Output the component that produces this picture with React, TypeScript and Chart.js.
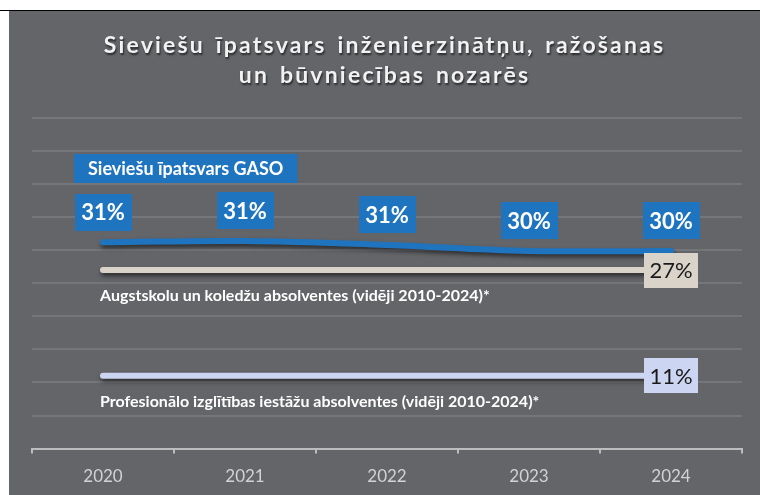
import React, { useEffect, useRef } from "react";
import { Chart, registerables } from "chart.js";

Chart.register(...registerables);

// ---------- data ----------
const TITLE_LINES = [
  "Sieviešu īpatsvars inženierzinātņu, ražošanas",
  "un būvniecības nozarēs",
];
const YEARS = ["2020", "2021", "2022", "2023", "2024"];
const GASO_LABEL = "Sieviešu īpatsvars GASO";
const GASO_VALUES = [31.2, 31.4, 30.8, 29.9, 29.9];
const UNI_LABEL = "Augstskolu un koledžu absolventes (vidēji 2010-2024)*";
const UNI_VALUES = [27, 27, 27, 27, 27];
const VOC_LABEL =
  "Profesionālo izglītības iestāžu absolventes (vidēji 2010-2024)*";
const VOC_VALUES = [11, 11, 11, 11, 11];
const Y_MIN = 0;
const Y_MAX = 50;
const Y_STEP = 5;

// ---------- styles ----------
const PANEL_BG = "#646569";
const BLUE = "#1f74c0";
const BEIGE = "#d9d3ca";
const LAVENDER = "#ccd5f1";
const FONT = "Lato, 'Open Sans', 'DejaVu Sans', sans-serif";

const lineShadow = {
  id: "lineShadow",
  beforeDatasetDraw(chart: any) {
    const ctx = chart.ctx;
    ctx.save();
    ctx.shadowColor = "rgba(0,0,0,0.55)";
    ctx.shadowBlur = 4;
    ctx.shadowOffsetX = 1;
    ctx.shadowOffsetY = 3;
  },
  afterDatasetDraw(chart: any) {
    chart.ctx.restore();
  },
};

const labelsPlugin = {
  id: "customLabels",
  afterDatasetsDraw(chart: any) {
    const ctx = chart.ctx;
    const area = chart.chartArea;
    ctx.save();
    ctx.textBaseline = "middle";

    // series 0: value boxes above each point
    const meta0 = chart.getDatasetMeta(0);
    const ds0 = chart.data.datasets[0];
    meta0.data.forEach((pt: any, i: number) => {
      const cx = pt.x;
      const cy = pt.y - 30;
      ctx.fillStyle = BLUE;
      ctx.fillRect(Math.round(cx - 28.5), Math.round(cy - 18.5), 57, 37);
      ctx.fillStyle = "#ffffff";
      ctx.font = `bold 22px ${FONT}`;
      ctx.textAlign = "center";
      ctx.fillText(Math.round(ds0.data[i]) + "%", cx, cy + 1);
    });

    // series 0 legend box
    const first0 = meta0.data[0];
    ctx.font = `bold 18px ${FONT}`;
    const lw = ctx.measureText(ds0.label).width;
    const lx = Math.round(first0.x - 29);
    const ly = Math.round(area.top + 36);
    ctx.fillStyle = BLUE;
    ctx.fillRect(lx, ly, lw + 28, 29);
    ctx.fillStyle = "#ffffff";
    ctx.textAlign = "left";
    ctx.fillText(ds0.label, lx + 14, ly + 15);

    // average series: end box + caption
    [1, 2].forEach((di) => {
      const meta = chart.getDatasetMeta(di);
      const ds = chart.data.datasets[di];
      const last = meta.data[meta.data.length - 1];
      const first = meta.data[0];
      ctx.fillStyle = ds.borderColor;
      ctx.fillRect(Math.round(last.x - 27), Math.round(last.y - 17.5), 54, 35);
      ctx.fillStyle = "#1a1a1a";
      ctx.font = `22px ${FONT}`;
      ctx.textAlign = "center";
      ctx.fillText(Math.round(ds.data[ds.data.length - 1]) + "%", last.x, last.y + 1);

      ctx.fillStyle = "#ffffff";
      ctx.font = `bold 16px ${FONT}`;
      ctx.textAlign = "left";
      ctx.fillText(ds.label, first.x - 3, first.y + 26);
    });
    ctx.restore();
  },
};

export default function App() {
  const canvasRef = useRef<HTMLCanvasElement | null>(null);

  useEffect(() => {
    if (!canvasRef.current) return;
    const chart = new Chart(canvasRef.current, {
      type: "line",
      data: {
        labels: YEARS,
        datasets: [
          {
            label: GASO_LABEL,
            data: GASO_VALUES,
            borderColor: BLUE,
            backgroundColor: BLUE,
            borderWidth: 6,
            tension: 0.4,
            pointRadius: 0,
            borderCapStyle: "round",
            borderJoinStyle: "round",
          },
          {
            label: UNI_LABEL,
            data: UNI_VALUES,
            borderColor: BEIGE,
            backgroundColor: BEIGE,
            borderWidth: 6,
            pointRadius: 0,
            borderCapStyle: "round",
          },
          {
            label: VOC_LABEL,
            data: VOC_VALUES,
            borderColor: LAVENDER,
            backgroundColor: LAVENDER,
            borderWidth: 6,
            pointRadius: 0,
            borderCapStyle: "round",
          },
        ],
      },
      options: {
        responsive: false,
        animation: false,
        devicePixelRatio: 1,
        layout: { padding: { left: 23, right: 18, top: 107, bottom: 0 } },
        plugins: {
          legend: { display: false },
          tooltip: { enabled: false },
          title: { display: false },
        },
        scales: {
          x: {
            type: "category",
            offset: true,
            grid: {
              display: true,
              offset: true,
              drawOnChartArea: false,
              drawTicks: true,
              tickLength: 5,
              color: "#bdbdbd",
              lineWidth: 2,
            },
            border: { display: true, color: "#bdbdbd", width: 2 },
            ticks: {
              color: "#d2d2d2",
              font: { family: FONT, size: 17 },
              padding: 13,
            },
          },
          y: {
            min: Y_MIN,
            max: Y_MAX,
            ticks: { display: false, stepSize: Y_STEP },
            grid: {
              drawTicks: false,
              lineWidth: 2,
              color: (c: any) =>
                c.tick && c.tick.value === Y_MIN ? "rgba(0,0,0,0)" : "#75767a",
            },
            border: { display: false },
          },
        },
      },
      plugins: [lineShadow, labelsPlugin],
    } as any);

    let alive = true;
    if ((document as any).fonts) {
      Promise.all([
        document.fonts.load(`bold 21px Lato`),
        document.fonts.load(`21px Lato`),
        document.fonts.load(`17px Lato`),
      ])
        .then(() => {
          if (alive) chart.update("none");
        })
        .catch(() => {});
    }
    return () => {
      alive = false;
      chart.destroy();
    };
  }, []);

  return (
    <div
      style={{
        position: "absolute",
        left: 0,
        top: 0,
        width: 760,
        height: 495,
        background: "#ffffff",
        overflow: "hidden",
      }}
    >
      <div
        style={{
          position: "absolute",
          left: 0,
          top: 10,
          width: 760,
          height: 1,
          background: "#000000",
        }}
      />
      <div
        style={{
          position: "absolute",
          left: 9,
          top: 11,
          width: 751,
          height: 484,
          background: PANEL_BG,
          overflow: "hidden",
        }}
      >
        <canvas
          ref={canvasRef}
          width={751}
          height={489}
          style={{ position: "absolute", left: 0, top: 0 }}
        />
        <div
          style={{
            position: "absolute",
            left: 0,
            top: 18,
            width: 751,
            textAlign: "center",
            fontFamily: FONT,
            fontWeight: 700,
            fontSize: 23,
            lineHeight: "30px",
            letterSpacing: "2.2px",
            wordSpacing: "3px",
            color: "#f2f2f2",
            textShadow: "1px 2px 2px rgba(0,0,0,0.6)",
          }}
        >
          {TITLE_LINES.map((t, i) => (
            <div key={i}>{t}</div>
          ))}
        </div>
      </div>
    </div>
  );
}
